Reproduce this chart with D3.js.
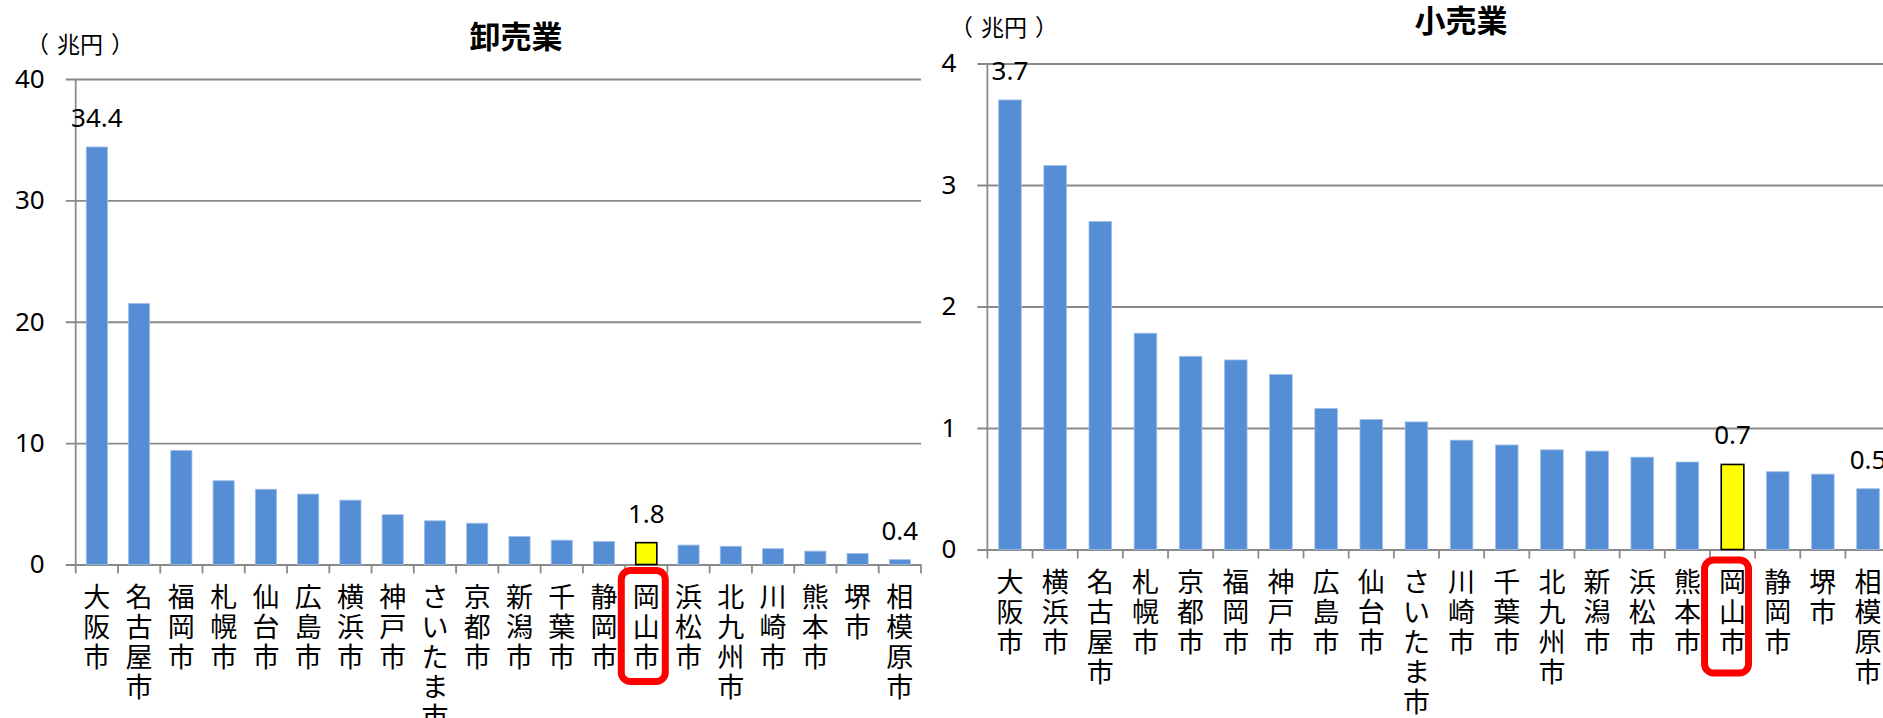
<!DOCTYPE html>
<html>
<head>
<meta charset="utf-8">
<script src="https://cdn.jsdelivr.net/npm/d3@7/dist/d3.min.js"></script>
<style>
  html, body { margin: 0; padding: 0; background: #fff; }
  svg { display: block; }
</style>
</head>
<body>
<svg id="chart" width="1883" height="718"></svg>
<script>
// 卸売業（兆円）
const wholesaleCities = ["大阪市","名古屋市","福岡市","札幌市","仙台市","広島市","横浜市","神戸市","さいたま市","京都市",
  "新潟市","千葉市","静岡市","岡山市","浜松市","北九州市","川崎市","熊本市","堺市","相模原市"];
const wholesaleValues = [34.4, 21.5, 9.4, 6.9, 6.2, 5.8, 5.3, 4.1, 3.6, 3.4,
  2.3, 2.0, 1.9, 1.8, 1.6, 1.5, 1.3, 1.1, 0.9, 0.4];
const wholesaleTicks = [0, 10, 20, 30, 40];

// 小売業（兆円）
const retailCities = ["大阪市","横浜市","名古屋市","札幌市","京都市","福岡市","神戸市","広島市","仙台市","さいたま市",
  "川崎市","千葉市","北九州市","新潟市","浜松市","熊本市","岡山市","静岡市","堺市","相模原市"];
const retailValues = [3.7, 3.16, 2.7, 1.78, 1.59, 1.56, 1.44, 1.16, 1.07, 1.05,
  0.90, 0.86, 0.82, 0.81, 0.76, 0.72, 0.7, 0.64, 0.62, 0.5];
const retailTicks = [0, 1, 2, 3, 4];

const highlightCity = "岡山市";
const labeledCities = ["大阪市", "岡山市", "相模原市"];

const NUM_FONT = "'Noto Sans', 'Liberation Sans', sans-serif";
const JP_FONT = "'Noto Sans CJK JP', 'Noto Sans', sans-serif";
const GRID = "#8a8a8a";
const BLUE = "#558ed5";

const svg = d3.select("#chart");

function drawPanel(opt) {
  const g = svg.append("g");
  const x = d3.scaleBand()
    .domain(opt.cities)
    .range([opt.x0, opt.x1])
    .paddingInner(0.5)
    .paddingOuter(0.25);
  const y = d3.scaleLinear()
    .domain([opt.ticks[0], opt.ticks[opt.ticks.length - 1]])
    .range([opt.y0, opt.y1]);

  // gridlines + y ticks + tick labels
  const yAxis = d3.axisLeft(y)
    .tickValues(opt.ticks)
    .tickSizeInner(-(opt.x1 - opt.x0))
    .tickSizeOuter(0)
    .tickPadding(31)
    .tickFormat(d3.format("d"));
  const ya = g.append("g")
    .attr("transform", `translate(${opt.x0},0)`)
    .call(yAxis);
  ya.select(".domain").remove();
  ya.selectAll(".tick line")
    .attr("x1", -10)
    .attr("stroke", GRID)
    .attr("stroke-width", 1.8);
  ya.selectAll(".tick text")
    .attr("fill", "#000")
    .style("font-family", NUM_FONT)
    .style("font-size", "26px");

  // vertical axis line
  g.append("line")
    .attr("x1", opt.x0).attr("x2", opt.x0)
    .attr("y1", y(opt.ticks[opt.ticks.length - 1])).attr("y2", y(0))
    .attr("stroke", GRID).attr("stroke-width", 1.8);

  // category boundary ticks
  const step = x.step();
  const bounds = opt.cities.map(c => x(c) - step * 0.25).concat([x(opt.cities[opt.cities.length - 1]) + step * 0.75]);
  g.selectAll(".ctick").data(bounds).join("line")
    .attr("class", "ctick")
    .attr("x1", d => d).attr("x2", d => d)
    .attr("y1", y(0)).attr("y2", y(0) + 9)
    .attr("stroke", GRID).attr("stroke-width", 1.8);

  // bars
  const data = opt.cities.map((c, i) => ({ city: c, value: opt.values[i] }));
  g.selectAll(".bar").data(data).join("rect")
    .attr("class", "bar")
    .attr("x", d => x(d.city))
    .attr("width", x.bandwidth())
    .attr("y", d => y(d.value))
    .attr("height", d => y(0) - y(d.value))
    .attr("fill", d => d.city === highlightCity ? "#ffff00" : BLUE)
    .attr("stroke", d => d.city === highlightCity ? "#000" : "#9dbde8")
    .attr("stroke-width", d => d.city === highlightCity ? 1.6 : 0.8);

  // data labels
  g.selectAll(".vlabel").data(data.filter(d => labeledCities.includes(d.city))).join("text")
    .attr("class", "vlabel")
    .attr("x", d => x(d.city) + x.bandwidth() / 2)
    .attr("y", d => y(d.value) - 20)
    .attr("text-anchor", "middle")
    .style("font-family", NUM_FONT)
    .style("font-size", "26px")
    .text(d => d3.format(".1f")(d.value));

  // vertical category labels, one character per row
  const cl = g.selectAll(".clabel").data(opt.cities).join("text")
    .attr("class", "clabel")
    .attr("text-anchor", "middle")
    .style("font-family", JP_FONT)
    .style("font-size", "27px");
  cl.each(function(c) {
    const t = d3.select(this);
    const cx = x(c) + x.bandwidth() / 2;
    Array.from(c).forEach((ch, i) => {
      t.append("tspan")
        .attr("x", cx)
        .attr("y", y(0) + 31 + i * 30)
        .attr("dominant-baseline", "central")
        .text(ch);
    });
  });

  // highlight frame around the city name
  const hx = x(highlightCity) + x.bandwidth() / 2;
  g.append("rect")
    .attr("x", hx + opt.boxDx - 22)
    .attr("y", y(0) + opt.boxTop)
    .attr("width", 44)
    .attr("height", opt.boxH)
    .attr("rx", 9)
    .attr("fill", "none")
    .attr("stroke", "#ff0000")
    .attr("stroke-width", 7);

  // title and unit
  g.append("text")
    .attr("x", opt.titleX).attr("y", opt.titleY)
    .attr("text-anchor", "middle")
    .attr("dominant-baseline", "central")
    .style("font-family", JP_FONT)
    .style("font-weight", "bold")
    .style("font-size", "31px")
    .text(opt.title);
  const unit = g.append("text")
    .attr("x", opt.unitX).attr("y", opt.unitY)
    .attr("text-anchor", "middle")
    .attr("dominant-baseline", "central")
    .style("font-family", JP_FONT)
    .style("font-size", "23px");
  unit.append("tspan").text("（");
  unit.append("tspan").attr("dx", 8).text("兆円");
  unit.append("tspan").attr("dx", 8).text("）");
}

drawPanel({
  cities: wholesaleCities, values: wholesaleValues, ticks: wholesaleTicks,
  x0: 75.7, x1: 921, y0: 564.5, y1: 79,
  title: "卸売業", titleX: 516, titleY: 34, unitX: 80, unitY: 43,
  boxDx: -3, boxTop: 6, boxH: 111
});

drawPanel({
  cities: retailCities, values: retailValues, ticks: retailTicks,
  x0: 987.4, x1: 1890.6, y0: 549.5, y1: 63.5,
  title: "小売業", titleX: 1461, titleY: 18, unitX: 1004, unitY: 26,
  boxDx: -6, boxTop: 10.5, boxH: 113
});
</script>
</body>
</html>
